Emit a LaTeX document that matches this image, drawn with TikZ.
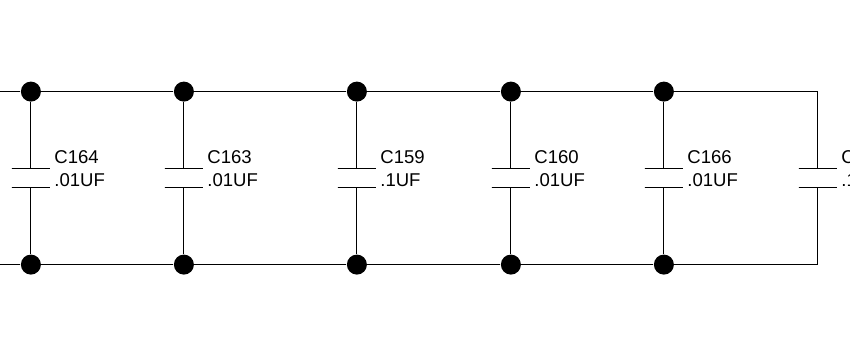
\documentclass[tikz,border=0pt]{standalone}
\usepackage{fontspec}
\setmainfont{Liberation Sans}
\tikzset{
	dot/.style={circle,fill=black,inner sep=0pt,minimum size=15pt},
	plate/.style={draw,rectangle,inner sep=0pt,minimum height=0pt,minimum width=28.5pt},
	capname/.style={anchor=base west,inner sep=0pt,font=\fontsize{13.9pt}{16pt}\selectfont}
}

\begin{document}
\begin{tikzpicture}[x=0.75pt,y=0.75pt,line width=0.75pt]
	\useasboundingbox (0.1,0.6) rectangle (850.1,359.6);
	%\draw [help lines] (0,0) grid (850,359);
	\coordinate (leftT) at (0,268);
	\coordinate (leftB) at (0,95);
	\coordinate (cornerT) at (818,268);
	\coordinate (cornerB) at (818,95);

	\node [dot] (t164) at (31,268) {};
	\node [dot] (t163) at (184,268) {};
	\node [dot] (t159) at (357,268) {};
	\node [dot] (t160) at (511,268) {};
	\node [dot] (t166) at (664,268) {};

	\node [dot] (b164) at (31,95) {};
	\node [dot] (b163) at (184,95) {};
	\node [dot] (b159) at (357,95) {};
	\node [dot] (b160) at (511,95) {};
	\node [dot] (b166) at (664,95) {};

	\node [plate] (p164) at (31,191) {};
	\node [plate] (q164) at (31,172) {};
	\node [plate] (p163) at (184,191) {};
	\node [plate] (q163) at (184,172) {};
	\node [plate] (p159) at (357,191) {};
	\node [plate] (q159) at (357,172) {};
	\node [plate] (p160) at (511,191) {};
	\node [plate] (q160) at (511,172) {};
	\node [plate] (p166) at (664,191) {};
	\node [plate] (q166) at (664,172) {};
	\node [plate] (pend) at (818,191) {};
	\node [plate] (qend) at (818,172) {};

	\draw (leftT) -- (t164) -- (t163) -- (t159) -- (t160) -- (t166) -- (cornerT) -- (pend);
	\draw (leftB) -- (b164) -- (b163) -- (b159) -- (b160) -- (b166) -- (cornerB) -- (qend);

	\draw (t164) -- (p164);
	\draw (q164) -- (b164);
	\draw (t163) -- (p163);
	\draw (q163) -- (b163);
	\draw (t159) -- (p159);
	\draw (q159) -- (b159);
	\draw (t160) -- (p160);
	\draw (q160) -- (b160);
	\draw (t166) -- (p166);
	\draw (q166) -- (b166);

	\node [capname] (n164) at (54,196) {C164};
	\node [capname] (v164) at (54,173) {.01UF};
	\node [capname] (n163) at (207,196) {C163};
	\node [capname] (v163) at (207,173) {.01UF};
	\node [capname] (n159) at (380,196) {C159};
	\node [capname] (v159) at (380,173) {.1UF};
	\node [capname] (n160) at (534,196) {C160};
	\node [capname] (v160) at (534,173) {.01UF};
	\node [capname] (n166) at (687,196) {C166};
	\node [capname] (v166) at (687,173) {.01UF};
	\node [capname] (nend) at (841,196) {C};
	\node [capname] (vend) at (841,173) {.1};
\end{tikzpicture}
\end{document}
